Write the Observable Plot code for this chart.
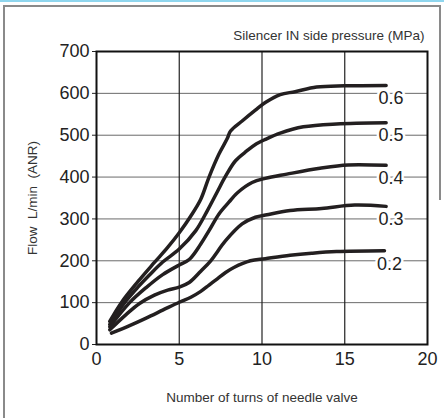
<!DOCTYPE html>
<html><head><meta charset="utf-8">
<script src="https://cdn.jsdelivr.net/npm/d3@7"></script>
<script src="https://cdn.jsdelivr.net/npm/@observablehq/plot@0.6"></script>
<style>
html,body{margin:0;padding:0;background:#fff;}
#wrap{position:relative;width:444px;height:418px;overflow:hidden;}
.deco{position:absolute;pointer-events:none;}
</style>
</head><body>
<div id="wrap">
  <div id="chart"></div>
  <div class="deco" style="left:0;top:0;width:444px;height:2px;background:#8fd6ee;"></div>
  <div class="deco" style="left:3px;top:5px;width:437px;height:1.5px;background:#8a8a8a;"></div>
  <div class="deco" style="left:3px;top:5px;width:1.5px;height:413px;background:#8a8a8a;"></div>
  <div class="deco" style="left:439px;top:5px;width:1.5px;height:195px;background:#8a8a8a;"></div>
</div>
<script>
const pressures = ["0.6", "0.5", "0.4", "0.3", "0.2"];
const xTicks = [0, 5, 10, 15, 20];
const yTicks = [0, 100, 200, 300, 400, 500, 600, 700];

const turns06 = [0.8, 1.5, 2.5, 3.5, 4.3, 5.0, 5.7, 6.3, 6.8, 7.4, 7.9, 8.1, 8.8, 9.6, 10.2, 11.1, 12.0, 13.3, 15.0, 17.5];
const flow06  = [55, 100, 150, 196, 232, 267, 307, 347, 400, 455, 492, 510, 534, 560, 578, 597, 604, 615, 618, 619];

const turns05 = [0.8, 1.7, 2.5, 3.2, 4.0, 5.0, 6.0, 6.7, 7.3, 7.8, 8.4, 9.1, 9.6, 10.2, 11.1, 12.5, 14.5, 17.5];
const flow05  = [48, 100, 137, 166, 197, 228, 272, 320, 365, 402, 439, 463, 478, 490, 505, 520, 527, 530];

const turns04 = [0.8, 2.0, 3.0, 4.0, 5.0, 5.6, 6.3, 6.8, 7.4, 8.0, 8.5, 9.4, 10.2, 11.5, 13.5, 15.2, 17.5];
const flow04  = [42, 100, 136, 167, 190, 203, 240, 272, 312, 340, 362, 387, 397, 407, 421, 429, 428];

const turns03 = [0.8, 1.8, 2.6, 3.5, 4.3, 5.0, 5.6, 6.3, 6.9, 7.8, 8.8, 9.6, 10.3, 11.7, 13.6, 15.6, 17.5];
const flow03  = [35, 72, 98, 118, 130, 137, 148, 175, 200, 248, 288, 304, 310, 320, 325, 333, 330];

const turns02 = [0.9, 2.0, 3.0, 4.0, 5.0, 5.7, 6.3, 6.8, 7.3, 7.8, 8.3, 9.3, 10.2, 11.7, 13.0, 14.5, 17.4];
const flow02  = [27, 45, 63, 82, 101, 113, 127, 142, 157, 172, 184, 200, 205, 213, 218, 222, 224];

const series = [
  {p: pressures[0], turns: turns06, flow: flow06},
  {p: pressures[1], turns: turns05, flow: flow05},
  {p: pressures[2], turns: turns04, flow: flow04},
  {p: pressures[3], turns: turns03, flow: flow03},
  {p: pressures[4], turns: turns02, flow: flow02}
];
const rows = series.flatMap(s => s.turns.map((t, i) => ({p: s.p, x: t, y: s.flow[i]})));
const ends = series.map(s => ({p: s.p, x: s.turns[s.turns.length - 1], y: s.flow[s.flow.length - 1]}));

const ink = "#222";
const chart = Plot.plot({
  width: 444,
  height: 418,
  marginLeft: 96,
  marginRight: 17,
  marginTop: 51,
  marginBottom: 74,
  style: {fontFamily: "'Liberation Sans', Arial, sans-serif", fontSize: "18px", color: ink, background: "transparent"},
  x: {domain: [0, 20]},
  y: {domain: [0, 700]},
  marks: [
    Plot.gridY(yTicks.slice(1, -1), {stroke: "#6a6a6a", strokeOpacity: 1, strokeWidth: 1}),
    Plot.gridX(xTicks.slice(1, -1), {stroke: "#222", strokeOpacity: 1, strokeWidth: 1.2}),
    Plot.axisY(yTicks, {tickSize: 4, tickPadding: 3, fontSize: 18, label: null}),
    Plot.axisX(xTicks, {tickSize: 0, tickPadding: 8, fontSize: 18, label: null}),
    Plot.text(ends, {x: "x", y: "y", text: "p", dx: 5, dy: 13, fontSize: 18, fill: ink,
      stroke: "white", strokeWidth: 5, paintOrder: "stroke", textAnchor: "middle"}),
    Plot.line(rows, {x: "x", y: "y", z: "p", stroke: "#231f20", strokeWidth: 3.5,
      curve: "catmull-rom", strokeLinejoin: "round"}),
    Plot.frame({stroke: "#111", strokeWidth: 2}),
    Plot.text(["Silencer IN side pressure (MPa)"], {text: d => d, frameAnchor: "top-right",
      dx: -3, dy: -16, textAnchor: "end", lineAnchor: "middle", fontSize: 13.5, fill: "#333"}),
    Plot.text(["Number of turns of needle valve"], {text: d => d, frameAnchor: "bottom",
      dy: 53, textAnchor: "middle", lineAnchor: "middle", fontSize: 13.5, fill: "#333"}),
    Plot.text(["Flow  L/min  (ANR)"], {text: d => d, frameAnchor: "left",
      dx: -64, rotate: -90, textAnchor: "middle", lineAnchor: "middle", fontSize: 13.5, fill: "#333"})
  ]
});
document.getElementById("chart").appendChild(chart);
</script>
</body></html>
